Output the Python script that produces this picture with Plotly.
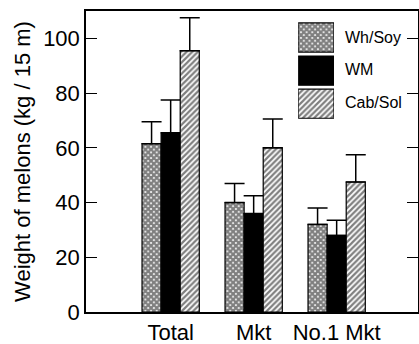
import plotly.graph_objects as go

categories = ["Total", "Mkt", "No.1 Mkt"]
series_names = ["Wh/Soy", "WM", "Cab/Sol"]
wh_soy = [61.5, 40.0, 32.0]
wm = [65.5, 36.0, 28.0]
cab_sol = [95.5, 60.0, 47.5]
wh_soy_err = [8.0, 7.0, 6.0]
wm_err = [12.0, 6.5, 5.5]
cab_sol_err = [12.0, 10.5, 10.0]
y_ticks = [0, 20, 40, 60, 80, 100]

FONT = "Liberation Sans, Arial, sans-serif"
x_pos = list(range(len(categories)))

styles = [
    dict(fgcolor="black", bgcolor="white", shape="x", size=4, solidity=0.8),
    None,
    dict(fgcolor="black", bgcolor="white", shape="/", size=4, solidity=0.55),
]
colors = ["white", "black", "white"]
vals = [wh_soy, wm, cab_sol]
errs = [wh_soy_err, wm_err, cab_sol_err]

fig = go.Figure()
for name, v, e, pat, col in zip(series_names, vals, errs, styles, colors):
    marker = dict(color=col, line=dict(color="black", width=1.2))
    if pat:
        marker["pattern"] = pat
    fig.add_trace(go.Bar(
        x=x_pos, y=v, name=name, marker=marker, showlegend=False,
        error_y=dict(type="data", array=e, arrayminus=[0] * len(e),
                     symmetric=False, color="black", thickness=1.5, width=10),
    ))

# custom legend patches
legend_y_paper = [0.912, 0.806, 0.696]
for i, (name, pat, col) in enumerate(zip(series_names, styles, colors)):
    marker = dict(color=col, line=dict(color="black", width=1.2))
    if pat:
        marker["pattern"] = pat
    fig.add_trace(go.Bar(
        x=[1], y=[i], orientation="h", width=0.88, marker=marker,
        xaxis="x2", yaxis="y3", showlegend=False, hoverinfo="skip",
    ))
    fig.add_annotation(x=0.774, y=legend_y_paper[i], xref="paper", yref="paper", text=name,
                       showarrow=False, xanchor="left", yanchor="middle",
                       font=dict(family=FONT, size=16, color="black"))

fig.update_layout(
    width=419, height=344,
    margin=dict(l=86, r=1, t=11, b=32, autoexpand=False),
    paper_bgcolor="white", plot_bgcolor="white",
    barmode="group", bargap=0.31, bargroupgap=0,
    font=dict(family=FONT, size=22, color="black"),
    xaxis=dict(
        range=[-1.02, 2.98], tickvals=x_pos, ticktext=categories,
        showline=True, linecolor="black", linewidth=1.5, mirror=True,
        ticks="", showgrid=False, zeroline=False, automargin=False,
        tickfont=dict(family=FONT, size=22),
    ),
    yaxis=dict(
        range=[0, 110], tickvals=y_ticks,
        showline=True, linecolor="black", linewidth=1.5, mirror="ticks",
        ticks="inside", ticklen=11, tickwidth=1.2, tickcolor="black",
        showgrid=False, zeroline=False, automargin=False,
        tickfont=dict(family=FONT, size=22),
        title=dict(text="Weight of melons (kg / 15 m)", font=dict(family=FONT, size=22), standoff=6),
    ),
    xaxis2=dict(domain=[0.639, 0.747], range=[0, 1], visible=False, anchor="y3"),
    yaxis3=dict(domain=[0.637, 0.967], range=[2.5, -0.5], visible=False, anchor="x2"),
)

fig.write_html("out.html")
